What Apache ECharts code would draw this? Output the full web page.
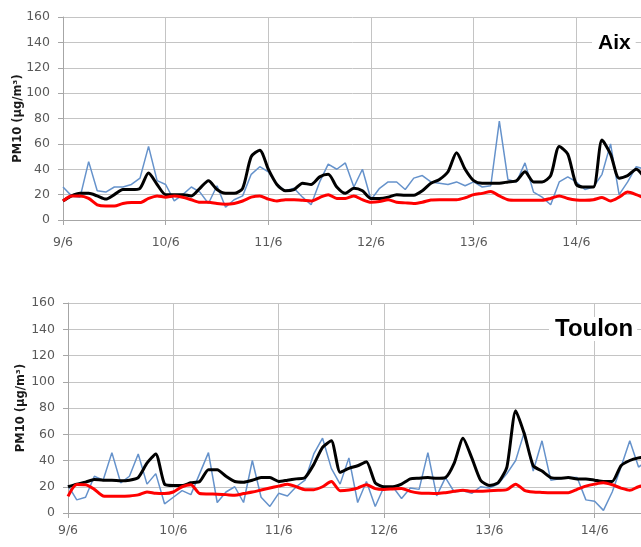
<!DOCTYPE html>
<html>
<head>
<meta charset="utf-8">
<script src="https://cdn.jsdelivr.net/npm/echarts@6/dist/echarts.min.js"></script>
<style>
  html, body { margin: 0; padding: 0; background: #fff; }
  #main { width: 641px; height: 547px; }
</style>
</head>
<body>
<div id="main"></div>
<script>
// tick labels, one per day (x axis in hours from 9/6 00:00)
const dayLabels = ['9/6', '10/6', '11/6', '12/6', '13/6', '14/6', '15/6']

// Aix : PM10, 2-hourly values
const aixMeasured = [
  26, 19, 18, 46, 23, 22, 26, 26, 28, 33,
  58, 31, 28, 15, 20, 26, 22, 13, 27, 10,
  16, 19, 36, 42, 38, 28, 23, 25, 18, 12,
  30, 44, 40, 45, 26, 40, 16, 25, 30, 30,
  24, 33, 35, 30, 29, 28, 30, 27, 30, 26,
  27, 78, 32, 30, 45, 22, 18, 12, 30, 34,
  30, 24, 26, 36, 60, 20, 30, 42, 40
]
const aixModel = [
  15, 19, 21, 21, 19, 16.5, 20, 24, 24, 25,
  37, 28, 20, 20, 20, 19, 25, 31, 24, 21,
  21, 25, 50, 55, 40, 28, 23, 24, 29, 28,
  34, 36, 26, 21, 25, 23, 17, 17, 18, 20,
  19.5, 19.5, 23, 29, 32, 38, 53, 40, 31, 29,
  29, 29, 30, 31, 38, 30, 30, 35, 58, 52,
  28, 26, 26, 63, 52, 33, 35, 40, 33
]
const aixBackground = [
  15, 19, 19, 17, 12, 11, 11, 13, 13.7, 13.7,
  17, 19, 18, 19, 18, 16, 14, 14, 13, 12.5,
  13, 15, 18, 19, 16.5, 15, 16, 16, 15.6, 15,
  17.7, 20, 17, 17, 19, 16, 14, 14.5, 16, 14,
  13.5, 13, 14, 15.8, 16, 16, 16, 17.5, 20, 21,
  22.4, 19, 16, 15.6, 15.6, 15.6, 15.6, 17, 19, 17,
  15.8, 15.6, 16, 17.7, 15, 18, 22, 20, 17
]

// Toulon : PM10, 2-hourly values
const toulonMeasured = [
  21, 10, 12, 28, 25, 46, 23, 28, 45, 22,
  30, 7, 12, 17, 14, 30, 46, 8, 16, 20,
  8, 40, 12, 5, 15, 13, 20, 25, 45, 57,
  34, 22, 42, 8, 24, 5, 20, 20, 11, 19,
  18, 46, 13, 27, 16, 17, 15, 20, 19, 22,
  30, 40, 62, 32, 55, 25, 26, 27, 27, 10,
  9, 2, 16, 35, 55, 35, 40, 35, 30
]
const toulonModel = [
  20, 22, 23.5, 25.5, 25, 25, 24.5, 25, 27, 38,
  45, 22, 21, 21, 23, 24, 33, 33, 28, 24,
  23.5, 25, 27, 27, 24, 25, 26, 27, 37, 50,
  55, 31, 34, 36, 39, 23, 20, 20, 22, 26,
  26.5, 27, 26.5, 27, 38, 57, 42, 25, 21, 23,
  35, 78, 60, 36, 32, 27, 26.5, 27, 26, 26,
  25, 24, 24, 36, 40, 42, 43, 44, 44
]
const toulonBackground = [
  12.7, 21.7, 21.5, 18, 13, 12.7, 12.7, 13, 13.8, 16,
  15, 14.8, 16, 20, 21.5, 14.8, 14.5, 14.3, 14, 13.5,
  14.8, 16, 17.5, 19, 20.5, 22, 20, 17.8, 17.8, 20,
  24, 17, 17.5, 19, 21.5, 18.6, 18, 18.3, 18.6, 16.5,
  15.3, 15, 14.8, 15.5, 16.5, 17.3, 16.5, 16.5, 17, 17.3,
  17.8, 22, 17.3, 16, 15.7, 15.5, 15.5, 15.5, 18, 20.5,
  22, 23, 21.5, 19, 17.3, 20, 21, 21, 21
]

const STEP = 2 // hours between values
const hours = aixModel.map((_, i) => i * STEP)

const font = 'DejaVu Sans'
const gridColor = '#c4c4c4'
const labelColor = '#595959'

const pairs = vals => vals.map((v, i) => [hours[i], v])

const makeX = gridIndex => ({
  type: 'value', gridIndex, min: 0, max: 144, interval: 24,
  axisLine: { show: true, lineStyle: { color: '#a6a6a6' } },
  axisTick: { show: true, length: 5, lineStyle: { color: '#a6a6a6' } },
  axisLabel: {
    margin: gridIndex === 0 ? 16 : 11,
    fontFamily: font, fontSize: 12.5, color: labelColor,
    formatter: v => dayLabels[v / 24]
  },
  splitLine: { show: true, lineStyle: { color: gridColor } }
})

const makeY = (gridIndex, gap) => ({
  type: 'value', gridIndex, min: 0, max: 160, interval: 20,
  name: 'PM10 (µg/m³)', nameLocation: 'middle', nameGap: gap, nameMoveOverlap: false,
  nameTextStyle: { fontFamily: font, fontSize: 11.5, fontWeight: 'bold', color: '#1a1a1a' },
  axisLine: { show: true, lineStyle: { color: '#a6a6a6' } },
  axisTick: { show: true, length: 5, lineStyle: { color: '#a6a6a6' } },
  axisLabel: { margin: 13, fontFamily: font, fontSize: 12.5, color: labelColor },
  splitLine: { show: true, lineStyle: { color: gridColor } }
})

const line = (idx, data, color, width, smooth) => ({
  type: 'line', xAxisIndex: idx, yAxisIndex: idx,
  data: pairs(data), symbol: 'none', smooth,
  lineStyle: { color, width }, itemStyle: { color }
})

const chart = echarts.init(document.getElementById('main'))
chart.setOption({
  animation: false,
  backgroundColor: '#fff',
  title: [
    { text: 'Aix', left: 592, top: 33, padding: [0, 5, 0, 6], backgroundColor: '#fff',
      textStyle: { fontFamily: 'Liberation Sans', fontSize: 21, fontWeight: 'bold', color: '#000' } },
    { text: 'Toulon', left: 549, top: 317, padding: [0, 4, 0, 6], backgroundColor: '#fff',
      textStyle: { fontFamily: 'Liberation Sans', fontSize: 24, fontWeight: 'bold', color: '#000' } }
  ],
  grid: [
    { left: 63, top: 17, height: 203, right: -38, outerBoundsMode: 'none' },
    { left: 68, top: 303, height: 210, right: -59, outerBoundsMode: 'none' }
  ],
  xAxis: [makeX(0), makeX(1)],
  yAxis: [makeY(0, 39), makeY(1, 41)],
  series: [
    line(0, aixMeasured, '#6592cb', 1.5, false),
    line(0, aixModel, '#000', 3, 0.25),
    line(0, aixBackground, '#ff0000', 3, 0.25),
    line(1, toulonMeasured, '#6592cb', 1.5, false),
    line(1, toulonModel, '#000', 3, 0.2),
    line(1, toulonBackground, '#ff0000', 3, 0.25)
  ]
})
</script>
</body>
</html>
